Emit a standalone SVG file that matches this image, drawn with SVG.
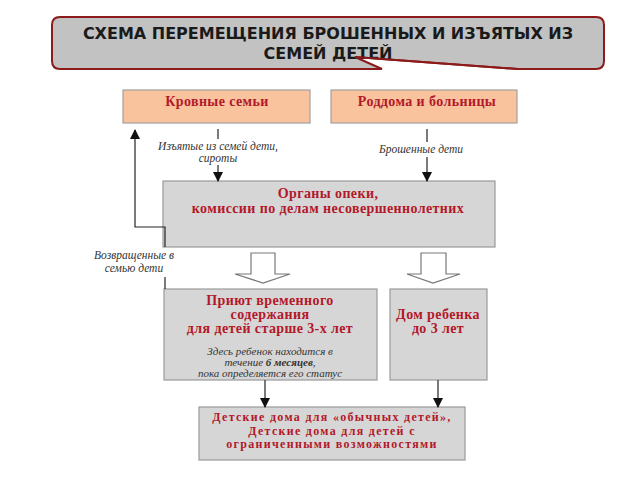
<svg xmlns="http://www.w3.org/2000/svg" width="640" height="480" viewBox="0 0 640 480">
<defs>
<marker id="ah" markerWidth="10" markerHeight="10" refX="9" refY="5" orient="auto" markerUnits="userSpaceOnUse">
<path d="M0,0 L10,5 L0,10 Z" fill="#111"/>
</marker>
<style>
.box{fill:#d6d6d6;stroke:#9a9a9a;stroke-width:1.2}
.peach{fill:#f8c39d;stroke:#a0a0a0;stroke-width:1.2}
.red{font-family:"Liberation Serif","Times New Roman",serif;font-weight:bold;font-size:14px;letter-spacing:0.4px;fill:#b3182a;text-anchor:middle}
.sm{font-size:12px;letter-spacing:1.3px}
.lbl{font-family:"Liberation Serif","Times New Roman",serif;font-style:italic;font-size:11.5px;fill:#333;text-anchor:middle}
.note{font-family:"Liberation Serif","Times New Roman",serif;font-style:italic;font-size:11px;fill:#333;text-anchor:middle}
.ln{fill:none;stroke:#222;stroke-width:1.2}
.hollow{fill:#fff;stroke:#777;stroke-width:1.2}
.title{font-family:"DejaVu Sans",Verdana,sans-serif;font-weight:bold;font-size:16px;fill:#1a1a1a;text-anchor:middle}
</style>
</defs>
<rect width="640" height="480" fill="#fff"/>

<g id="title">
<path d="M60,17 H596 Q604,17 604,25 V61 Q604,69 596,69 H518 L355,57 L382,69 H60 Q52,69 52,61 V25 Q52,17 60,17 Z" fill="#c2c2c2" stroke="#8b1a1a" stroke-width="2"/>
<text class="title" x="328" y="39">СХЕМА ПЕРЕМЕЩЕНИЯ БРОШЕННЫХ И ИЗЪЯТЫХ ИЗ</text>
<text class="title" x="328" y="59">СЕМЕЙ ДЕТЕЙ</text>
<path d="M355,57 L518,69" stroke="#8b1a1a" stroke-width="2" fill="none"/>
</g>

<g id="krovnye">
<rect class="peach" x="123" y="90" width="187" height="33"/>
<text class="red" x="217" y="106">Кровные семьи</text>
</g>

<g id="roddoma">
<rect class="peach" x="331" y="90" width="186" height="33"/>
<text class="red" x="427" y="106">Роддома и больницы</text>
</g>

<g id="organy">
<rect class="box" x="163" y="181" width="332" height="66"/>
<text class="red" x="328" y="198">Органы опеки,</text>
<text class="red" x="328" y="213">комиссии по делам несовершеннолетних</text>
</g>

<g id="priyut">
<rect class="box" x="164" y="289" width="213" height="91"/>
<text class="red" x="270" y="305">Приют временного</text>
<text class="red" x="270" y="319">содержания</text>
<text class="red" x="270" y="333">для детей старше 3-х лет</text>
<text class="note" x="270" y="355">Здесь ребенок находится в</text>
<text class="note" x="270" y="366">течение <tspan font-weight="bold">6 месяцев</tspan>,</text>
<text class="note" x="270" y="377">пока определяется его статус</text>
</g>

<g id="dom">
<rect class="box" x="390" y="289" width="97" height="91"/>
<text class="red" x="438" y="319">Дом ребенка</text>
<text class="red" x="438" y="333">до 3 лет</text>
</g>

<g id="detdoma">
<rect class="box" x="199" y="407" width="266" height="53"/>
<text class="red sm" x="332" y="421">Детские дома для «обычных детей»,</text>
<text class="red sm" x="332" y="434.5">Детские дома для детей с</text>
<text class="red sm" x="332" y="448">ограниченными возможностями</text>
</g>

<g id="connectors">
<line class="ln" x1="218" y1="129" x2="218" y2="139"/>
<text class="lbl" x="218" y="150">Изъятые из семей дети,</text>
<text class="lbl" x="218" y="162">сироты</text>
<line class="ln" x1="218" y1="165" x2="218" y2="181" marker-end="url(#ah)"/>

<line class="ln" x1="427" y1="129" x2="427" y2="142"/>
<text class="lbl" x="421" y="153" font-size="12.5">Брошенные дети</text>
<line class="ln" x1="427" y1="157" x2="427" y2="181" marker-end="url(#ah)"/>

<path class="ln" d="M165,289 V277"/>
<path class="ln" d="M165,247 V227 H135 V130" marker-end="url(#ah)"/>
<text class="lbl" x="134" y="259">Возвращенные в</text>
<text class="lbl" x="134" y="272">семью дети</text>

<path class="hollow" d="M251,253 H275 V274 H290 L263,283 L235,274 H251 Z"/>
<path class="hollow" d="M421,253 H446 V274 H460 L433,283 L407,274 H421 Z"/>

<line class="ln" x1="265" y1="380" x2="265" y2="407" marker-end="url(#ah)"/>
<line class="ln" x1="438" y1="380" x2="438" y2="407" marker-end="url(#ah)"/>
</g>
</svg>
